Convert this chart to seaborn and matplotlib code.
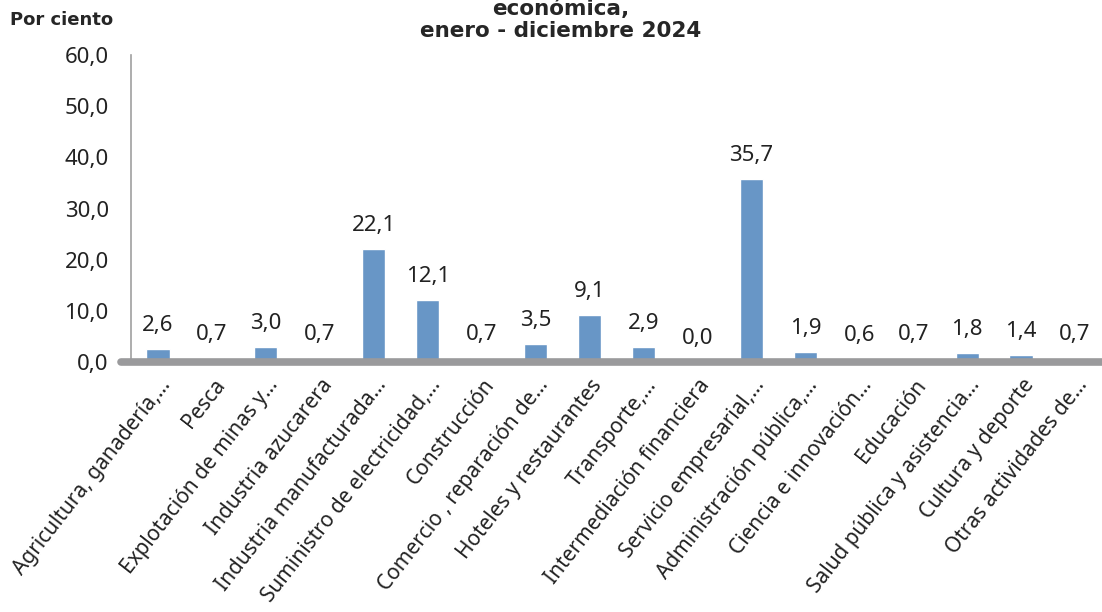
import matplotlib
matplotlib.use("Agg")
import matplotlib.pyplot as plt
import matplotlib.transforms as mtransforms
import seaborn as sns
import pandas as pd

categories = [
    "Agricultura, ganadería,…", "Pesca", "Explotación de minas y…",
    "Industria azucarera", "Industria manufacturada…",
    "Suministro de electricidad,…", "Construcción", "Comercio , reparación de…",
    "Hoteles y restaurantes", "Transporte,…", "Intermediación financiera",
    "Servicio empresarial,…", "Administración pública,…", "Ciencia e innovación…",
    "Educación", "Salud pública y asistencia…", "Cultura y deporte",
    "Otras actividades de…",
]
values = [2.6, 0.7, 3.0, 0.7, 22.1, 12.1, 0.7, 3.5, 9.1, 2.9, 0.0, 35.7,
          1.9, 0.6, 0.7, 1.8, 1.4, 0.7]
y_ticks = [0, 10, 20, 30, 40, 50, 60]
y_tick_labels = ["0,0", "10,0", "20,0", "30,0", "40,0", "50,0", "60,0"]
title_lines = ["económica,", "enero - diciembre 2024"]
y_unit = "Por ciento"

df = pd.DataFrame({"cat": categories, "val": values})

sns.set_theme(style="white")
plt.rcParams["font.family"] = ["Noto Sans", "DejaVu Sans"]

fig = plt.figure(figsize=(11.02, 6.12), dpi=100)
ax = fig.add_axes([131 / 1102, 1 - 362 / 612, (1102 - 131) / 1102, (362 - 55) / 612])

sns.barplot(data=df, x="cat", y="val", color="#6896C6", saturation=1,
            width=0.43, ax=ax, zorder=2)

ax.set_ylim(0, 60)
ax.set_xlim(-0.5, len(categories) - 0.5)
ax.set_yticks(y_ticks)
ax.set_yticklabels(y_tick_labels, fontsize=16, color="#222222")
ax.tick_params(axis="y", length=0, pad=16)
ax.tick_params(axis="x", length=0, pad=14)
ax.set_xticks(range(len(categories)))
ax.set_xticklabels(categories, rotation=52, ha="right", va="center",
                   rotation_mode="anchor", fontsize=15, color="#222222")
shift = mtransforms.ScaledTranslation(9 / 100, 0, fig.dpi_scale_trans)
for lab in ax.get_xticklabels():
    lab.set_transform(lab.get_transform() + shift)
ax.set_xlabel("")
ax.set_ylabel("")

for s in ["top", "right", "bottom"]:
    ax.spines[s].set_visible(False)
ax.spines["left"].set_color("#a0a0a0")
ax.spines["left"].set_linewidth(1.2)

# grey floor
ax.axhline(0, color="#9a9a9c", lw=5.5, zorder=3, xmin=-0.01, clip_on=False)

for i, v in enumerate(values):
    ax.annotate(f"{v:.1f}".replace(".", ","), xy=(i, v), xytext=(0, 17),
                textcoords="offset points", ha="center", va="center",
                fontsize=16, color="#222222", zorder=4)

fig.text(0.509, 1 - 31 / 612, title_lines[1], ha="center", va="center",
         fontsize=15.5, fontweight="bold", family=["DejaVu Sans"])
fig.text(0.509, 1 - 9 / 612, title_lines[0], ha="center", va="center",
         fontsize=15.5, fontweight="bold", family=["DejaVu Sans"])
fig.text(0.009, 1 - 20 / 612, y_unit, ha="left", va="center", fontsize=13,
         fontweight="bold", family=["DejaVu Sans"])

fig.savefig("out.png", dpi=100)
